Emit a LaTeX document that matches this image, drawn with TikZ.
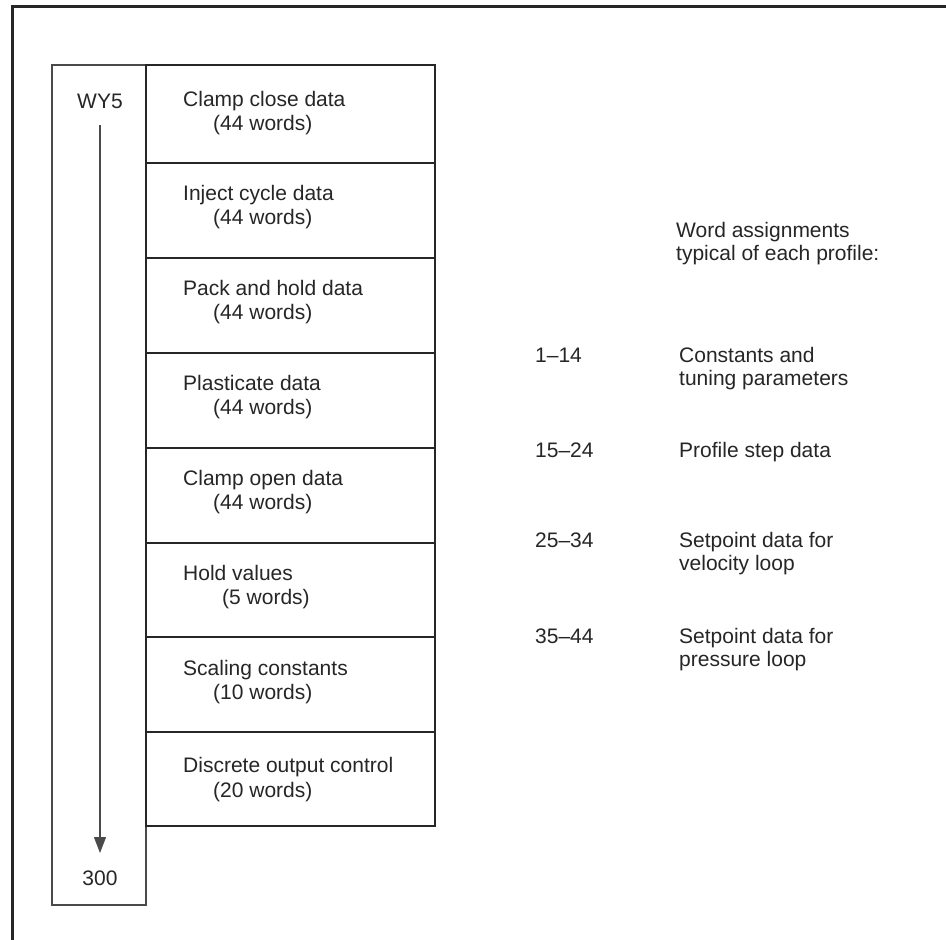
\documentclass[tikz,border=0pt]{standalone}
\usepackage{fontspec}
\setmainfont{Liberation Sans}
\usetikzlibrary{arrows.meta}
\definecolor{ink}{HTML}{262626}
\definecolor{rule}{HTML}{4A4A4A}
\begin{document}
\begin{tikzpicture}[x=1pt,y=-1pt,
  txt/.style={anchor=base west, inner sep=0pt, font=\fontsize{21}{24}\selectfont, text=ink},
  ctxt/.style={anchor=base, inner sep=0pt, font=\fontsize{21}{24}\selectfont, text=ink},
  cell/.style={draw=ink, line width=1.3pt, anchor=north west, minimum width=289pt, inner sep=0pt, outer sep=0pt},
  colbox/.style={draw=rule, line width=1.1pt, anchor=north west, minimum width=94pt, minimum height=840pt, inner sep=0pt, outer sep=0pt}]
\useasboundingbox (0,0) rectangle (946,940);
\fill[white] (0,0) rectangle (946,940);

% page frame (only top and left edges are in view)
\draw[line width=2.4pt, ink] (12.5,940) -- (12.5,6.5) -- (946,6.5);

% address column with direction arrow
\node[colbox] (col) at (52,65) {};
\node[ctxt] (wy) at (100,108) {WY5};
\node[ctxt] (end) at (100,885) {300};
\coordinate (a0) at (100,125);
\coordinate (a1) at (100,853);
\draw[rule, line width=1.1pt, -{Triangle[length=16pt,width=12pt]}] (a0) -- (a1);

% data blocks
\node[cell, minimum height=98pt] (r1) at (146,65) {};
\node[cell, minimum height=95pt] (r2) at (146,163) {};
\node[cell, minimum height=95pt] (r3) at (146,258) {};
\node[cell, minimum height=95pt] (r4) at (146,353) {};
\node[cell, minimum height=95pt] (r5) at (146,448) {};
\node[cell, minimum height=94pt] (r6) at (146,543) {};
\node[cell, minimum height=95pt] (r7) at (146,637) {};
\node[cell, minimum height=94pt] (r8) at (146,732) {};

\node[txt] (t1a) at (183,106) {Clamp close data};
\node[txt] (t1b) at (213,130) {(44 words)};
\node[txt] (t2a) at (183,200) {Inject cycle data};
\node[txt] (t2b) at (213,224) {(44 words)};
\node[txt] (t3a) at (183,295) {Pack and hold data};
\node[txt] (t3b) at (213,319) {(44 words)};
\node[txt] (t4a) at (183,390) {Plasticate data};
\node[txt] (t4b) at (213,414) {(44 words)};
\node[txt] (t5a) at (183,485) {Clamp open data};
\node[txt] (t5b) at (213,509) {(44 words)};
\node[txt] (t6a) at (183,580) {Hold values};
\node[txt] (t6b) at (222,604) {(5 words)};
\node[txt] (t7a) at (183,675) {Scaling constants};
\node[txt] (t7b) at (213,699) {(10 words)};
\node[txt] (t8a) at (183,772) {Discrete output control};
\node[txt] (t8b) at (213,797) {(20 words)};

% word assignment legend
\node[txt] (hd1) at (676,237) {Word assignments};
\node[txt] (hd2) at (676,260) {typical of each profile:};

\node[txt] (n1) at (535,362) {1--14};
\node[txt] (d1a) at (679,362) {Constants and};
\node[txt] (d1b) at (679,385) {tuning parameters};
\node[txt] (n2) at (535,457) {15--24};
\node[txt] (d2) at (679,457) {Profile step data};
\node[txt] (n3) at (535,547) {25--34};
\node[txt] (d3a) at (679,547) {Setpoint data for};
\node[txt] (d3b) at (679,570) {velocity loop};
\node[txt] (n4) at (535,643) {35--44};
\node[txt] (d4a) at (679,643) {Setpoint data for};
\node[txt] (d4b) at (679,666) {pressure loop};
\end{tikzpicture}
\end{document}
